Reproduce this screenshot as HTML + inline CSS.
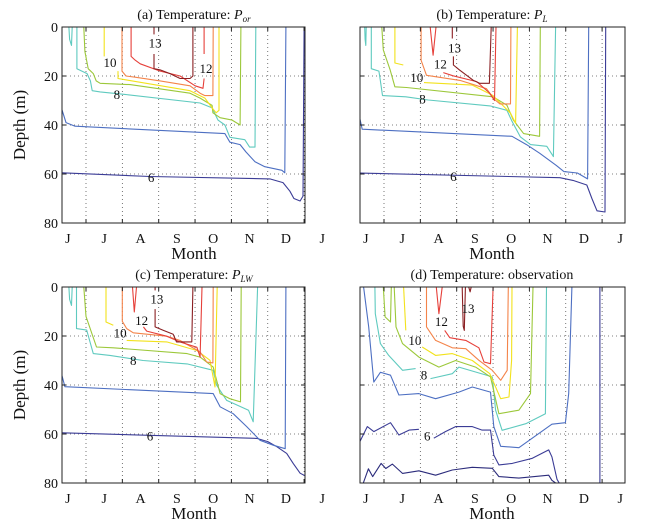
<!DOCTYPE html>
<html><head><meta charset="utf-8">
<style>
html,body{margin:0;padding:0;background:#fff;}
svg{display:block;font-family:"Liberation Serif",serif;}
</style></head>
<body>
<svg id="chart" width="646" height="529" viewBox="0 0 646 529" xmlns="http://www.w3.org/2000/svg"></svg>
<script>
// ---- data: [month index (0 = start of July), depth m] ----
const monthLabels = ["J","J","A","S","O","N","D","J"];
const depthTicks = [0,20,40,60,80];
const levelColors = {5:"#2c2c7c",6:"#3b3c96",7:"#4d6fc2",8:"#5fcabf",9:"#9cc83a",10:"#f2e21c",11:"#f4844a",12:"#e6403a",13:"#8a1f22"};

// Panel (a)
const A6=[[-0.7,59.5],[1.76,61],[5.06,62],[5.42,63.5],[5.61,67],[5.72,70],[5.89,71],[5.97,69],[6.0,0]];
const A7=[[-0.7,32],[-0.55,39],[-0.3,40.5],[3.82,43.5],[3.96,47],[4.24,48],[4.4,51],[4.65,55],[4.92,57],[5.39,58.5],[5.47,59.5],[5.5,0]];
const A8a=[[-0.47,0],[-0.45,5],[-0.4,7.5],[-0.38,0]];
const A8=[[-0.25,0],[-0.25,17],[0.03,19],[0.12,22],[0.17,26],[0.39,26.5],[1.07,27.5],[3.14,31],[3.47,33],[3.63,38],[3.82,40],[3.96,45],[4.37,46],[4.5,49],[4.65,49],[4.67,0]];
const A9=[[-0.06,0],[-0.03,10],[0.06,17],[0.2,19],[0.28,22],[0.39,23],[1.21,23.5],[2.86,27],[3.14,29],[3.47,32],[3.49,35],[3.69,37],[4.02,38],[4.24,40],[4.26,0]];
const A10a=[[0.5,0],[0.5,12]];
const A10=[[0.88,18],[0.88,21],[1.07,21.5],[2.86,26],[3.27,29],[3.47,33],[3.58,35],[3.66,34],[3.66,0]];
const A11=[[0.99,0],[0.99,18],[1.1,20],[1.35,20.5],[2.04,22],[2.86,24],[3.14,27],[3.27,28],[3.49,28],[3.5,0]];
const A12=[[1.24,0],[1.24,12],[1.35,13.5],[1.49,15],[2.04,18],[2.59,20],[3.0,24],[3.22,25],[3.25,21]];
const A12b=[[3.25,11],[3.25,0]];
const A13=[[1.87,0],[1.87,3]];
const A13b=[[1.87,11],[1.87,17],[2.04,17.5],[2.31,19],[2.59,21],[2.86,21],[2.94,20],[2.94,0]];
const ALabels=[["13",1.9,6.5],["12",3.3,17],["10",0.66,14.5],["8",0.85,27.5],["6",1.79,61.5]];

// Panel (b)
const B6=[[-0.7,59.6],[4.84,61.5],[5.2,62.6],[5.58,64.5],[5.72,70],[5.86,75],[6.08,75.5],[6.1,0]];
const B7=[[-0.7,35],[-0.6,41.7],[3.52,44.6],[3.92,48],[4.28,51.5],[4.74,56.5],[4.95,59],[5.32,59.6],[5.6,62],[5.63,0]];
const B8a=[[-0.53,0],[-0.52,5],[-0.5,7.5],[-0.49,0]];
const B8=[[-0.35,0],[-0.35,17],[-0.14,18],[-0.1,22],[-0.04,28],[0.6,28.5],[1.22,29.8],[2.92,32.2],[3.38,34],[3.52,38.5],[3.75,44.8],[4.03,48],[4.48,48.7],[4.66,52.9],[4.72,0]];
const B9=[[-0.06,0],[-0.02,9.4],[0.17,17.6],[0.3,24.4],[0.62,24.7],[3.0,28.5],[3.38,31.9],[3.56,38],[3.84,43.5],[4.28,44.6],[4.3,0]];
const B10a=[[0.3,0],[0.3,14.7],[0.53,15.5]];
const B10=[[1.1,22.7],[2.43,23.7],[2.98,27.8],[3.21,31.2],[3.48,35.2],[3.62,39.3],[3.67,0]];
const B11=[[1.02,0],[1.02,13.6],[1.17,19.7],[2.09,21.8],[2.82,25.2],[3.04,29.6],[3.19,31.4],[3.48,31.4],[3.49,0]];
const B12a=[[1.27,0],[1.35,11.5],[1.43,0]];
const B12=[[1.63,18.6],[1.9,19.9],[2.55,22.3],[2.9,26.9],[3.04,30],[3.08,0]];
const B13=[[1.88,0],[1.88,4.7]];
const B13b=[[1.91,12],[1.91,15.5],[2.08,17.6],[2.45,21.7],[2.63,23],[2.9,23],[2.95,0]];
const BLabels=[["13",1.94,8.5],["12",1.55,15],["10",0.9,20.7],["8",1.06,29.4],["6",1.91,61]];

// Panel (c)
const C6=[[-0.7,59.5],[4.7,61.8],[5.0,63.1],[5.25,65.2],[5.52,67.9],[5.7,72],[5.89,76],[6.07,77.4],[6.12,0]];
const C7=[[-0.7,34],[-0.58,40.7],[3.5,43.5],[3.69,48.9],[4.05,51.7],[4.42,57],[4.79,62.6],[5.16,64.6],[5.48,66],[5.5,0]];
const C8a=[[-0.47,0],[-0.45,5],[-0.4,7.5],[-0.38,0]];
const C8=[[-0.26,0],[-0.26,17],[0.02,17.6],[0.2,27.2],[0.66,27.9],[1.57,30],[2.78,31.4],[3.5,34],[3.59,40],[3.87,46.3],[4.47,50.3],[4.6,55],[4.72,0]];
const C9=[[-0.06,0],[0.0,12],[0.29,24.5],[0.75,24.8],[2.78,27.2],[3.14,28.6],[3.5,32.7],[3.69,43.5],[3.96,45.6],[4.25,46.9],[4.27,0]];
const C10a=[[0.55,0],[0.55,14.3],[0.75,15.6]];
const C10=[[1.12,21.8],[2.22,22.4],[3.05,25.9],[3.41,29.9],[3.55,40.8],[3.61,0]];
const C11=[[1.0,0],[1.0,14],[1.12,17],[1.3,18.7],[2.22,20.1],[2.58,21.8],[3.14,26.5],[3.32,30.6],[3.49,31],[3.5,0]];
const C12a=[[1.28,0],[1.33,10.2],[1.39,0]];
const C12=[[1.58,16.3],[1.67,18],[2.22,20.1],[2.58,22.4],[3.05,24.6],[3.14,28.6],[3.19,0]];
const C13=[[1.9,0],[1.9,1.4]];
const C13b=[[1.9,9],[1.9,16.3],[2.13,17.7],[2.4,19.3],[2.49,22.4],[2.91,22.4],[2.94,0]];
const CLabels=[["13",1.95,4.8],["12",1.53,13.6],["10",0.94,18.7],["8",1.3,30],["6",1.76,60.9]];

// Panel (d) observation
const D5=[[-0.57,80],[-0.43,74.2],[-0.31,77.4],[-0.08,72],[0.05,74.1],[0.23,72.3],[0.51,76.1],[0.96,75],[1.42,76.8],[1.88,74.7],[2.43,73.6],[2.98,74],[3.16,77.4],[3.71,78],[4.53,76.8],[4.62,78.9],[4.72,80]];
const D6=[[-0.69,63.9],[-0.46,57],[-0.28,59],[0.18,55.4],[0.41,60.4],[0.69,58.4],[0.96,58.1]];
const D6b=[[1.37,61.7],[1.69,59],[1.97,57],[2.43,57],[2.7,58.4],[2.93,58.4],[3.02,68.6],[3.16,72.6],[3.53,72],[4.08,69.9],[4.53,66.5],[4.62,69.3],[4.76,78.5],[4.82,80]];
const D6v=[[5.94,0],[5.94,80]];
const D7=[[-0.56,0],[-0.42,16.3],[-0.28,38.8],[-0.1,34.8],[0.18,36],[0.41,44.1],[0.96,43.5],[1.42,45.6],[2.06,42.9],[2.43,40.8],[2.93,42.9],[3.02,57],[3.21,65],[3.71,65.6],[4.62,56],[4.99,55.4],[5.08,43.5],[5.17,0]];
const D8=[[-0.25,0],[-0.24,10.9],[-0.1,23.1],[0.13,27.9],[0.51,34],[0.87,33.3]];
const D8b=[[1.28,37.4],[1.88,35.4],[2.06,32.7],[2.52,34.7],[2.98,36.7],[3.07,50.3],[3.25,58.5],[3.9,55.8],[4.44,51.7],[4.47,0]];
const D9a=[[-0.02,0],[0.03,12.2],[0.18,14.3],[0.2,0]];
const D9=[[0.28,0],[0.33,16.3],[0.51,23.1],[0.96,28.6],[1.51,32.7],[1.97,30],[2.52,32.7],[2.93,36.7],[3.16,51.7],[3.71,50.3],[4.03,43.5],[4.1,0]];
const D10=[[0.54,0],[0.6,17.7]];
const D10b=[[1.05,24.5],[1.42,27.9],[1.88,27.2],[2.43,30],[2.91,35.4],[3.21,45.6],[3.44,44.9],[3.51,29.9],[3.52,0]];
const D11=[[1.17,0],[1.17,16.3],[1.42,21.8],[1.88,24.8],[2.25,25.2],[2.61,29.9],[2.98,34],[3.21,38.1],[3.39,34],[3.42,0]];
const D12a=[[1.44,0],[1.51,10.9],[1.6,0]];
const D12=[[1.67,17.7],[1.81,20.7],[2.25,21.8],[2.61,24.8],[2.75,30.6],[2.93,31.3],[3.0,0]];
const D13a=[[2.15,0],[2.18,16],[2.21,17.7],[2.24,0]];
const D13b=[[2.33,0],[2.37,2],[2.4,0]];
const DLabels=[["13",2.31,8.7],["12",1.58,14],["10",0.85,21.8],["8",1.1,36],["6",1.19,60.8]];

const NS="http://www.w3.org/2000/svg";
const svg=document.getElementById('chart');
function mk(tag,attrs,parent){const e=document.createElementNS(NS,tag);for(const k in attrs)e.setAttribute(k,attrs[k]);(parent||svg).appendChild(e);return e;}

const panels=[
 {id:"a",left:62,right:305,top:27,yLabels:true,titleMain:"(a) Temperature: ",titleP:"P",titleSub:"or",
  lines:[[A6,6],[A7,7],[A8a,8],[A8,8],[A9,9],[A10a,10],[A10,10],[A11,11],[A12,12],[A12b,12],[A13,13],[A13b,13]],labels:ALabels},
 {id:"b",left:360,right:625,top:27,yLabels:false,titleMain:"(b) Temperature: ",titleP:"P",titleSub:"L",
  lines:[[B6,6],[B7,7],[B8a,8],[B8,8],[B9,9],[B10a,10],[B10,10],[B11,11],[B12a,12],[B12,12],[B13,13],[B13b,13]],labels:BLabels},
 {id:"c",left:62,right:305,top:287,yLabels:true,titleMain:"(c) Temperature: ",titleP:"P",titleSub:"LW",
  lines:[[C6,6],[C7,7],[C8a,8],[C8,8],[C9,9],[C10a,10],[C10,10],[C11,11],[C12a,12],[C12,12],[C13,13],[C13b,13]],labels:CLabels},
 {id:"d",left:360,right:625,top:287,yLabels:false,titleMain:"(d) Temperature: observation",titleP:"",titleSub:"",
  lines:[[D5,5],[D6,6],[D6b,6],[D6v,6],[D7,7],[D8,8],[D8b,8],[D9a,9],[D9,9],[D10,10],[D10b,10],[D11,11],[D12a,12],[D12,12],[D13a,13],[D13b,13]],labels:DLabels}
];

const MW=36.35, DPX=2.45;
panels.forEach(p=>{
  const xs=m=>p.left+24+MW*m;
  const ys=d=>p.top+DPX*d;
  const bottom=ys(80);
  const g=mk('g',{});
  
  
  const cp=mk('clipPath',{id:'clip'+p.id},g);
  mk('rect',{x:p.left,y:p.top,width:p.right-p.left,height:bottom-p.top},cp);
  // grid
  const grid=mk('g',{stroke:"#555","stroke-width":0.8,"stroke-dasharray":"1,3"},g);
  
  
  for(let m=0;m<=6;m++){const x=xs(m);if(x<p.right-0.5)mk('line',{x1:x,x2:x,y1:p.top,y2:bottom},grid);}
  [20,40,60].forEach(d=>mk('line',{x1:p.left,x2:p.right,y1:ys(d),y2:ys(d)},grid));
  // contours
  const cg=mk('g',{'clip-path':'url(#clip'+p.id+')',fill:"none","stroke-width":1.1,"stroke-linejoin":"round"},g);
  p.lines.forEach(([arr,lvl])=>{
    const path=mk('path',{d:arr.map((pt,i)=>(i?'L':'M')+xs(pt[0]).toFixed(1)+','+ys(pt[1]).toFixed(1)).join(''),stroke:levelColors[lvl]},cg);
    
    
  });
  p.labels.forEach(([t,m,d])=>{
    const tx=mk('text',{x:xs(m),y:ys(d)+4.5,'font-size':13,'text-anchor':'middle',fill:"#111"},g);
    tx.textContent=t;
    
    
  });
  // box
  const box=mk('rect',{x:p.left,y:p.top,width:p.right-p.left,height:bottom-p.top,fill:"none",stroke:"#222","stroke-width":1},g);
  
  
  // ticks
  const tk=mk('g',{stroke:"#222","stroke-width":1},g);
  depthTicks.forEach(d=>{const y=ys(d);mk('line',{x1:p.left,x2:p.left+4,y1:y,y2:y},tk);mk('line',{x1:p.right,x2:p.right-4,y1:y,y2:y},tk);});
  for(let m=0;m<=6;m++){const x=xs(m);if(x<p.right-0.5){mk('line',{x1:x,x2:x,y1:bottom,y2:bottom-4},tk);mk('line',{x1:x,x2:x,y1:p.top,y2:p.top+4},tk);}}
  // y labels
  if(p.yLabels){
    depthTicks.forEach(d=>{const t=mk('text',{x:p.left-4,y:ys(d)+5,'font-size':14,'text-anchor':'end',fill:"#111"},g);t.textContent=d;
      
      });
    const yt=mk('text',{x:0,y:0,'font-size':17,'text-anchor':'middle',fill:"#111",transform:`translate(25,${(p.top+bottom)/2}) rotate(-90)`},g);
    yt.textContent="Depth (m)";
    
    
  }
  // x labels
  monthLabels.forEach((lab,i)=>{const t=mk('text',{x:xs(i-0.5),y:bottom+20,'font-size':14,'text-anchor':'middle',fill:"#111"},g);t.textContent=lab;
    
    });
  const xt=mk('text',{x:xs(2.97),y:bottom+36,'font-size':17,'text-anchor':'middle',fill:"#111"},g);
  xt.textContent="Month";
  
  
  // title
  const ti=mk('text',{x:xs(2.97),y:p.top-8,'font-size':14,'text-anchor':'middle',fill:"#111"},g);
  
  
  const s1=mk('tspan',{},ti);s1.textContent=p.titleMain;
  if(p.titleP){const s2=mk('tspan',{'font-style':'italic'},ti);s2.textContent=p.titleP;
    const s3=mk('tspan',{'font-style':'italic','font-size':9,dy:3},ti);s3.textContent=p.titleSub;}
});
</script>
</body></html>
